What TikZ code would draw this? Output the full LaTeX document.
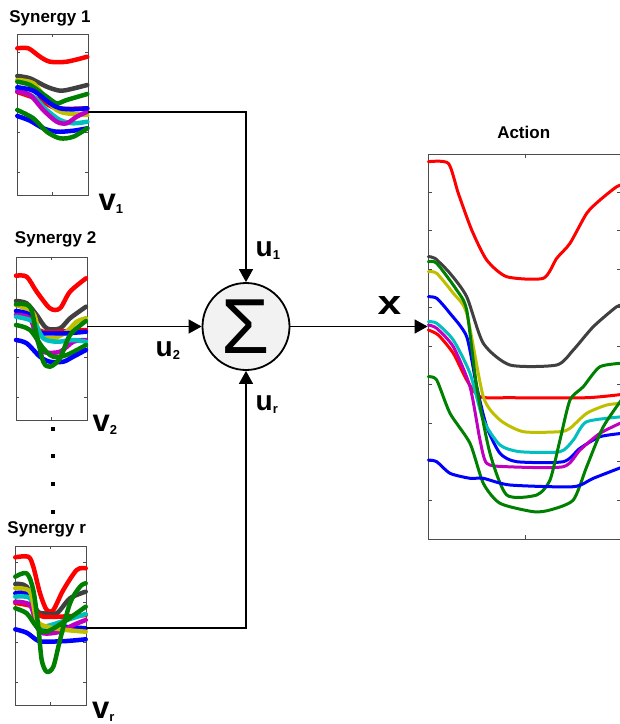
\documentclass[tikz,border=0pt]{standalone}
\usepackage{fontspec}
\setmainfont{Liberation Sans}
\usetikzlibrary{arrows.meta, positioning}

\definecolor{mred}{rgb}{1,0,0}
\definecolor{mgray}{rgb}{0.25,0.25,0.25}
\definecolor{mgreen}{rgb}{0,0.5,0}
\definecolor{myellow}{rgb}{0.75,0.75,0}
\definecolor{mblue}{rgb}{0,0,1}
\definecolor{mcyan}{rgb}{0,0.75,0.75}
\definecolor{mmag}{rgb}{0.75,0,0.75}

\newcommand{\veclab}[2]{#1\raisebox{-3pt}{\fontsize{13}{13}\selectfont #2}}

\begin{document}
\begin{tikzpicture}[x=1pt, y=-1pt,
    panel/.style={draw=black!70, line width=0.8pt, inner sep=0pt},
    title/.style={font=\fontsize{17}{17}\selectfont\bfseries, inner sep=0pt, anchor=base},
    vlab/.style={font=\fontsize{31}{31}\selectfont\bfseries, inner sep=0pt, anchor=base west},
    ulab/.style={font=\fontsize{28}{28}\selectfont\bfseries, inner sep=0pt, anchor=base west},
    sumnode/.style={circle, draw, line width=1.8pt, fill=black!5, minimum size=87pt, inner sep=0pt, font=\fontsize{78}{78}\selectfont},
    wire/.style={line width=1.4pt},
    sig/.style={wire, -{Triangle[width=14pt,length=13pt]}},
    syn/.style={line width=4.5pt, line join=round, line cap=round},
    act/.style={line width=3pt, line join=round, line cap=round},
    tick/.style={draw=black!70, line width=0.6pt}]
  \useasboundingbox (0,0) rectangle (620,724);

  % Panels
  \node[panel, minimum width=71pt, minimum height=161pt] (syn1) at (52.5,114.5) {};
  \node[panel, minimum width=71pt, minimum height=163pt] (syn2) at (51.5,338.5) {};
  \node[panel, minimum width=71pt, minimum height=159pt] (synr) at (50.5,625.5) {};
  \node[panel, minimum width=192.5pt, minimum height=385pt] (act) at (524.25,346.5) {};

  % Titles
  \node[title] (t1) at (50,22.7) {Synergy 1};
  \node[title] (t2) at (55.6,243.3) {Synergy 2};
  \node[title] (tr) at (46.7,533.3) {Synergy r};
  \node[title] (ta) at (523.7,138.3) {Action};

  % Ticks
  \foreach \p/\o in {syn1/19, syn2/21, synr/17} {
    \foreach \k in {0,1,2,3}
      \draw[tick] ([yshift=-\o pt-40*\k pt]\p.north west) -- ++(3,0)
                  ([yshift=-\o pt-40*\k pt]\p.north east) -- ++(-3,0);
    \draw[tick] (\p.north) -- ++(0,3) (\p.south) -- ++(0,-3);
  }
  \foreach \k in {1,...,9}
    \draw[tick] ([yshift=-38.5*\k pt]act.north west) -- ++(4,0)
                ([yshift=-38.5*\k pt]act.north east) -- ++(-4,0);
  \draw[tick] ([xshift=1pt]act.north) -- ++(0,4) ([xshift=1pt]act.south) -- ++(0,-4);

  % Synergy 1
  \draw[syn, mred] plot[smooth] coordinates {(17.3,48.3) (28.3,48.3) (40,56.7) (50,61.7) (66.7,61.7) (87.3,56.7)};
  \draw[syn, mgray] plot[smooth] coordinates {(17.3,76) (30,78.3) (46.7,86.7) (60,90.7) (70,89.3) (87.3,85)};
  \draw[syn, mred] plot[smooth] coordinates {(17.3,92) (40,100) (56.7,108.3) (87.3,108.3)};
  \draw[syn, myellow] plot[smooth] coordinates {(17.3,80) (33.3,83.3) (46.7,100) (56.7,110) (66.7,113.3) (87.3,115)};
  \draw[syn, mgreen] plot[smooth] coordinates {(17.3,81.7) (30,85) (46.7,96.7) (56.7,103.3) (66.7,100) (87.3,94)};
  \draw[syn, mcyan] plot[smooth] coordinates {(17.3,90) (33.3,96.7) (46.7,110) (60,120) (73.3,123.3) (87.3,121.7)};
  \draw[syn, mmag] plot[smooth] coordinates {(17.3,91.7) (30,95) (43.3,110) (56.7,121.7) (66.7,123.3) (76.7,116.7) (87.3,111.7)};
  \draw[syn, mblue] plot[smooth] coordinates {(17.3,87.3) (33.3,90.7) (50,103.3) (60,108.3) (73.3,109.3) (87.3,108.3)};
  \draw[syn, mblue] plot[smooth] coordinates {(17.3,116) (30,120.7) (43.3,128.3) (56.7,131.7) (73.3,130.7) (87.3,128.3)};
  \draw[syn, mgreen] plot[smooth] coordinates {(17.3,110) (33.3,118.3) (46.7,131.7) (60,138.3) (73.3,136.7) (87.3,128.3)};

  % Synergy 2
  \draw[syn, mred] plot[smooth] coordinates {(16,275.7) (26.7,276.7) (36.7,291.7) (50,308.3) (60,308.3) (70,291.7) (86,278.3)};
  \draw[syn, mgray] plot[smooth] coordinates {(16,301) (26.7,303.3) (36.7,315) (46.7,328.3) (60,328.3) (70,318.3) (86,306.7)};
  \draw[syn, mred] plot[smooth] coordinates {(16,315) (30,318) (38.3,330) (50,332) (86,330)};
  \draw[syn, myellow] plot[smooth] coordinates {(16,305) (33.3,313.3) (40,335) (53.3,338.3) (66.7,331.7) (76.7,321.7) (86,318.3)};
  \draw[syn, mblue] plot[smooth] coordinates {(16,311) (30,315) (38.3,331.7) (50,333.3) (66.7,333.3) (86,331.7)};
  \draw[syn, mmag] plot[smooth] coordinates {(16,315) (30,318.3) (36.7,338.3) (43.3,351.7) (60,351.7) (73.3,341.7) (86,340)};
  \draw[syn, mcyan] plot[smooth] coordinates {(16,316.7) (33.3,321.7) (43.3,338.3) (56.7,341.7) (73.3,340) (86,341.7)};
  \draw[syn, mgreen] plot[smooth] coordinates {(16,325) (30,330) (43.3,348.3) (53.3,356.7) (66.7,355) (86,345)};
  \draw[syn, mblue] plot[smooth] coordinates {(16,340) (26.7,343.3) (40,356.7) (50,361.7) (63.3,361.7) (73.3,356.7) (86,350)};
  \draw[syn, mgreen] plot[smooth] coordinates {(16,304.3) (30,306.7) (36.7,335) (43.3,361.7) (50,366.7) (60,358.3) (70,335) (86,321)};

  % Synergy r
  \draw[syn, mred] plot[smooth] coordinates {(15.3,557.3) (28.3,556.7) (33.3,566.7) (40,593.3) (46.7,610) (53.3,610) (63.3,590) (76.7,570) (85.7,568.3)};
  \draw[syn, mgray] plot[smooth] coordinates {(15.3,584) (26.7,586.7) (36.7,610) (43.3,613.3) (56.7,613.3) (70,598.3) (85.7,591.7)};
  \draw[syn, mred] plot[smooth] coordinates {(15.3,603) (33.3,606.7) (43.3,616.7) (85.7,615)};
  \draw[syn, mblue] plot[smooth] coordinates {(15.3,593.3) (30,595) (36.7,626.7) (43.3,628.3) (60,626.7) (85.7,628.3)};
  \draw[syn, mcyan] plot[smooth] coordinates {(15.3,596.7) (30,598.3) (36.7,620) (43.3,626.7) (66.7,620) (85.7,614)};
  \draw[syn, mmag] plot[smooth] coordinates {(15.3,601.7) (30,605) (36.7,625) (43.3,633.3) (60,631.7) (73.3,625) (85.7,620)};
  \draw[syn, myellow] plot[smooth] coordinates {(15.3,588.3) (30,591.7) (36.7,620) (46.7,626.7) (66.7,630) (85.7,631.7)};
  \draw[syn, mgreen] plot[smooth] coordinates {(15.3,608.3) (26.7,613.3) (36.7,626.7) (46.7,631.7) (66.7,620) (85.7,606.7)};
  \draw[syn, mblue] plot[smooth] coordinates {(15.3,629.3) (26.7,632.7) (36.7,640) (43.3,641.7) (66.7,641) (85.7,639.3)};
  \draw[syn, mgreen] plot[smooth] coordinates {(15.3,576.7) (26.7,573.3) (33.3,590) (38.3,626.7) (41.7,660) (46.7,671.7) (53.3,666.7) (60,640) (70,603.3) (80,586.7) (85.7,583.3)};

  % Action
  \draw[act, mred] plot[smooth, tension=0.4] coordinates {(428.3,161.7) (448.3,163.3) (458.3,193.3) (471.7,230) (486.7,260) (506.7,276.7) (543.3,278.3) (556.7,258.3) (570,243.3) (586.7,213.3) (600,200) (616.7,186.7) (625,184)};
  \draw[act, mred] plot[smooth, tension=0.4] coordinates {(428.3,330) (438.3,335) (453.3,353.3) (466.7,380) (480,396.7) (510,397.7) (586.7,397.7) (625,394)};
  \draw[act, mgray] plot[smooth, tension=0.4] coordinates {(428.3,256.7) (435,258.3) (450,273.3) (466.7,296.7) (483.3,343.3) (510,365) (556.7,365) (573.3,350) (593.3,326.7) (616.7,306.7) (625,305)};
  \draw[act, myellow] plot[smooth, tension=0.4] coordinates {(428.3,271.7) (436.7,273.3) (453.3,293.3) (466.7,313.3) (483.3,396.7) (500,420) (523.3,431.7) (560,431.7) (570,428.3) (586.7,413.3) (606.7,405) (625,403)};
  \draw[act, mblue] plot[smooth, tension=0.4] coordinates {(428.3,296.7) (436.7,298.3) (450,313.3) (466.7,336.7) (476.7,386.7) (486.7,426.7) (500,453.3) (516.7,461.7) (563.3,461.7) (580,448.3) (600,436.7) (625,433)};
  \draw[act, mcyan] plot[smooth, tension=0.4] coordinates {(428.3,321.7) (436.7,323.3) (453.3,340) (470,373.3) (483.3,420) (500,445) (520,451.7) (560,451.7) (573.3,440) (586.7,421.7) (625,416.5)};
  \draw[act, mmag] plot[smooth, tension=0.4] coordinates {(428.3,325) (436.7,328.3) (453.3,346.7) (470,386.7) (480,440) (486.7,463.3) (506.7,466.7) (563.3,466.7) (580,450) (600,433.3) (625,421)};
  \draw[act, mgreen] plot[smooth, tension=0.4] coordinates {(428.3,261.7) (436.7,263.3) (456.7,290) (466.7,310) (476.7,386.7) (490,453.3) (506.7,495) (536.7,495) (550,480) (560,440) (570,400) (583.3,386.7) (600,366.7) (625,363)};
  \draw[act, mgreen] plot[smooth, tension=0.4] coordinates {(428.3,376.7) (436.7,380) (450,413.3) (470,443.3) (483.3,483.3) (500,503.3) (533.3,511.7) (550,510) (573.3,500) (586.7,466.7) (603.3,426.7) (625,395)};
  \draw[act, mblue] plot[smooth, tension=0.4] coordinates {(428.3,460) (436.7,461.7) (450,473.3) (470,478.3) (483.3,478.3) (510,485) (573.3,486.7) (593.3,478.3) (625,466)};

  % Sum
  \node[sumnode] (sum) at (246,326.5) {Σ};

  % Connectors
  \draw[sig] (syn1.east |- 0,112) -| (sum.north);
  \draw[sig] (syn2.east |- sum) -- (sum.west);
  \draw[sig] (synr.east |- 0,628) -| (sum.south);
  \draw[sig] (sum.east) -- (act.west |- sum);

  % Labels
  \node[vlab] (v1) at (98.5,210) {\veclab{v}{1}};
  \node[vlab] (v2) at (92.5,431.7) {\veclab{v}{2}};
  \node[vlab] (vr) at (92,718.3) {\veclab{v}{r}};
  \node[ulab] (u1) at (255.5,256.7) {\veclab{u}{1}};
  \node[ulab] (u2) at (155.5,356) {\veclab{u}{2}};
  \node[ulab] (ur) at (255.5,410) {\veclab{u}{r}};
  \node[font=\fontsize{34}{34}\selectfont\bfseries, inner sep=0pt, anchor=base west] (xout) at (377.5,314) {\scalebox{1.25}[1]{x}};

  % Dots
  \foreach \y in {429,456,484,512}
    \fill (51,\y-2) rectangle ++(4,4);
\end{tikzpicture}
\end{document}
